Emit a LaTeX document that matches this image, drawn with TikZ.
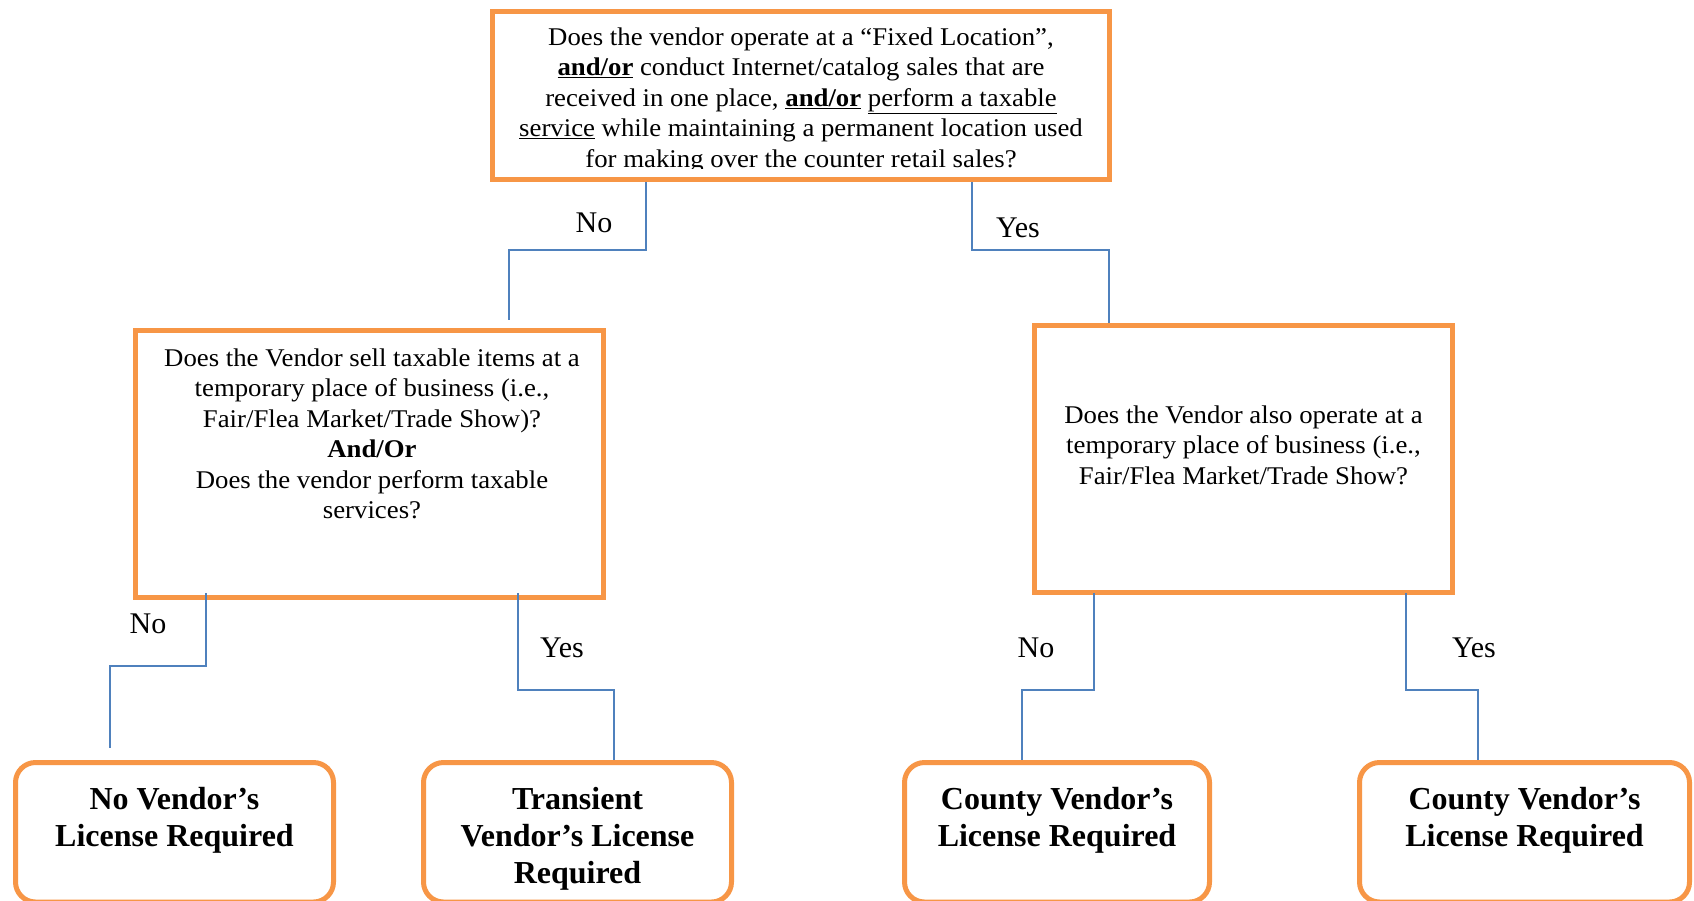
\documentclass[tikz,border=0pt]{standalone}
\usepackage{fontspec}
\setmainfont{Liberation Serif}
\newfontfamily\widefont{Liberation Serif}[FakeStretch=1.05]
\definecolor{boxorange}{HTML}{F79646}
\definecolor{linkblue}{HTML}{4F81BD}
\begin{document}
\begin{tikzpicture}[x=1pt,y=-1pt,
  qbox/.style={draw=boxorange,line width=5pt,rectangle,inner sep=0pt,fill=white},
  rbox/.style={draw=boxorange,line width=5pt,rectangle,rounded corners=20pt,inner sep=0pt,fill=white},
  qtext/.style={anchor=north,inner sep=0pt,align=center,font=\widefont\fontsize{25.5}{30.5}\selectfont},
  rtext/.style={anchor=north,inner sep=0pt,align=center,font=\fontsize{32}{37}\selectfont\bfseries},
  lbl/.style={anchor=base,inner sep=0pt,font=\fontsize{30}{34}\selectfont},
  conn/.style={draw=linkblue,line width=1.5pt}]
\useasboundingbox (0,0) rectangle (1694,900);
% question boxes
\node[qbox,minimum width=617pt,minimum height=168pt] (q1) at (801,95.5) {};
\node[qbox,minimum width=468pt,minimum height=267pt] (q2) at (369.5,464) {};
\node[qbox,minimum width=418pt,minimum height=267pt] (q3) at (1243.5,459) {};
% result boxes
\node[rbox,minimum width=318pt,minimum height=139.5pt] (r1) at (174.5,832.25) {};
\node[rbox,minimum width=308pt,minimum height=139.5pt] (r2) at (577.5,832.25) {};
\node[rbox,minimum width=305pt,minimum height=139.5pt] (r3) at (1057,832.25) {};
\node[rbox,minimum width=330pt,minimum height=139.5pt] (r4) at (1524.5,832.25) {};
% texts
\begin{scope}
\clip (495,14) rectangle (1107,168);
\node[qtext] (t1) at (801,27.5) {Does the vendor operate at a “Fixed Location”,\\
\underline{\textbf{and/or}} conduct Internet/catalog sales that are\\
received in one place, \underline{\textbf{and/or}} \underline{perform a taxable}\\
\underline{service} while maintaining a permanent location used\\
for making over the counter retail sales?};
\end{scope}
\node[qtext] (t2) at (372,348.5) {Does the Vendor sell taxable items at a\\
temporary place of business (i.e.,\\
Fair/Flea Market/Trade Show)?\\
\textbf{And/Or}\\
Does the vendor perform taxable\\
services?};
\node[qtext] (t3) at (1243.5,405.5) {Does the Vendor also operate at a\\
temporary place of business (i.e.,\\
Fair/Flea Market/Trade Show?};
\node[rtext] (t4) at (174.5,787) {No Vendor’s\\License Required};
\node[rtext] (t5) at (577.5,787) {Transient\\Vendor’s License\\Required};
\node[rtext] (t6) at (1057,787) {County Vendor’s\\License Required};
\node[rtext] (t7) at (1524.5,787) {County Vendor’s\\License Required};
% connector end points
\coordinate (a0) at (646,182);  \coordinate (a1) at (509,320);
\coordinate (b0) at (972,182);  \coordinate (b1) at (1109,323);
\coordinate (c0) at (206,593);  \coordinate (c1) at (110,748);
\coordinate (d0) at (518,593);  \coordinate (d1) at (614,760);
\coordinate (e0) at (1094,593); \coordinate (e1) at (1022,760);
\coordinate (f0) at (1406,593); \coordinate (f1) at (1478,760);
\draw[conn] (a0) -- (a0 |- 0,250) -| (a1);
\draw[conn] (b0) -- (b0 |- 0,250) -| (b1);
\draw[conn] (c0) -- (c0 |- 0,666) -| (c1);
\draw[conn] (d0) -- (d0 |- 0,690) -| (d1);
\draw[conn] (e0) -- (e0 |- 0,690) -| (e1);
\draw[conn] (f0) -- (f0 |- 0,690) -| (f1);
% labels
\node[lbl] (l1) at (594,232) {No};
\node[lbl] (l2) at (1018,237) {Yes};
\node[lbl] (l3) at (148,633) {No};
\node[lbl] (l4) at (562,657) {Yes};
\node[lbl] (l5) at (1036,657) {No};
\node[lbl] (l6) at (1474,657) {Yes};
\end{tikzpicture}
\end{document}
